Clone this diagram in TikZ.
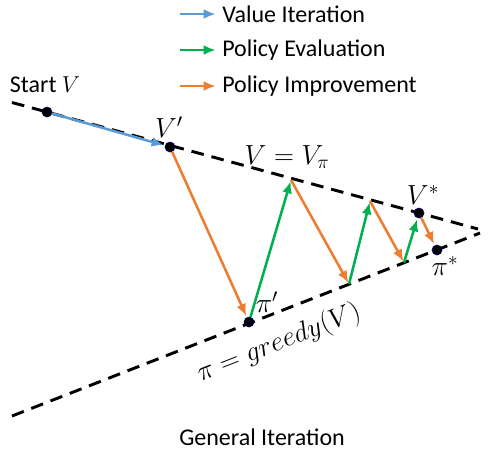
\documentclass[tikz,border=0pt]{standalone}
\usepackage{fontspec}
\setmainfont{Carlito}
\usetikzlibrary{arrows.meta}
\definecolor{vblue}{RGB}{91,155,213}
\definecolor{porange}{RGB}{237,125,49}
\definecolor{pgreen}{RGB}{0,176,80}
\begin{document}
\begin{tikzpicture}[x=0.75pt,y=-0.75pt,
  dline/.style={line width=2.2pt,dash pattern=on 9.5pt off 6pt},
  dot/.style={circle,fill=black,draw=blue!40!black,line width=0.5pt,inner sep=0pt,minimum size=7.5pt},
  arr/.style={line width=1.9pt,-{Latex[length=9pt,width=7.5pt]},shorten >=1pt},
  vi/.style={arr,vblue},
  pe/.style={arr,pgreen},
  pim/.style={arr,porange},
  lbl/.style={font=\fontsize{18}{21}\selectfont,inner sep=0pt},
  mlbl/.style={font=\fontsize{19.5}{23}\selectfont,inner sep=0pt},
  every node/.style={font=\fontsize{18}{21}\selectfont}]
\useasboundingbox (0,0) rectangle (488,455);
% dashed lines
\coordinate (u0) at (12,102.5);
\coordinate (u1) at (478,229);
\coordinate (l0) at (12,416);
\coordinate (l1) at (480,233);
\draw[dline] (u0) -- (u1);
\draw[dline] (l0) -- (l1);
% points
\coordinate (p1) at (291,180);
\coordinate (p2) at (370,201);
\coordinate (q2) at (349,284);
\coordinate (q3) at (404,262.5);
\node[dot] (s) at (47,112) {};
\node[dot] (vp) at (170,147) {};
\node[dot] (vs) at (419,213) {};
\node[dot] (ps) at (437,250) {};
\node[dot] (pp) at (249,322) {};
% arrows
\draw[vi] (s) -- (vp);
\draw[pim] (vp) -- (pp);
\draw[pe] (pp) -- (p1);
\draw[pim] (p1) -- (q2);
\draw[pe] (q2) -- (p2);
\draw[pim] (p2) -- (q3);
\draw[pe] (q3) -- (vs);
\draw[pim] (vs) -- (ps);
% labels
\node[lbl] (tstart) at (45,85) {Start $V$};
\node[mlbl] (tvp) at (169,127) {$V'$};
\node[mlbl] (tvpi) at (287,157) {$V=V_\pi$};
\node[mlbl] (tvs) at (423,195) {$V^*$};
\node[mlbl] (tps) at (445,266) {$\pi^*$};
\node[mlbl] (tpp) at (267,302) {$\pi'$};
\node[mlbl,rotate=21.4] (tgreedy) at (279,343) {$\pi=greedy(V)$};
\node[lbl] (tgen) at (262,437) {General Iteration};
% legend
\coordinate (la1) at (180,14); \coordinate (lb1) at (217,14);
\coordinate (la2) at (180,50); \coordinate (lb2) at (217,50);
\coordinate (la3) at (180,86); \coordinate (lb3) at (217,86);
\draw[vi] (la1) -- (lb1);
\draw[pe] (la2) -- (lb2);
\draw[pim] (la3) -- (lb3);
\node[lbl,anchor=west] (t1) at (222,14) {Value Iteration};
\node[lbl,anchor=west] (t2) at (222,50) {Policy Evaluation};
\node[lbl,anchor=west] (t3) at (222,86) {Policy Improvement};
\end{tikzpicture}
\end{document}
